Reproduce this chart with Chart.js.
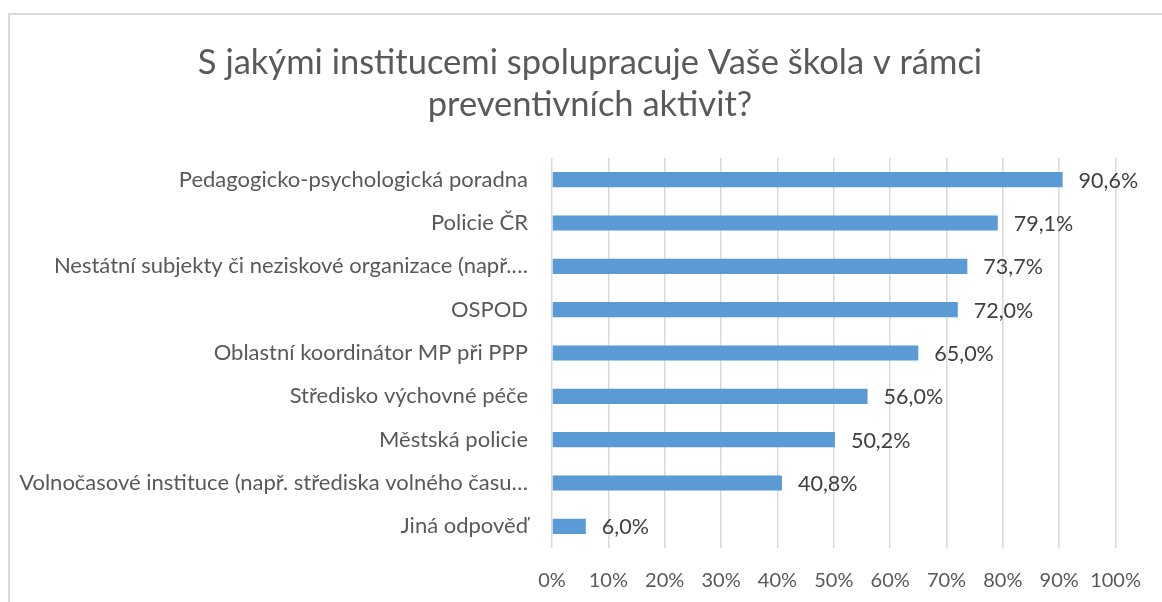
<!DOCTYPE html>
<html>
<head>
<meta charset="utf-8">
<script src="https://cdn.jsdelivr.net/npm/chart.js@4"></script>
<style>
  html, body { margin: 0; padding: 0; background: #fff; overflow: hidden; }
  #wrap { position: relative; width: 1162px; height: 602px; }
  #frame { position: absolute; left: 8px; top: 13px; width: 1200px; height: 700px;
           border-left: 2px solid #d9d9d9; border-top: 2px solid #d9d9d9; pointer-events: none; }
  canvas { position: absolute; left: 0; top: 0; }
</style>
</head>
<body>
<div id="wrap">
  <canvas id="chart" width="1162" height="602"></canvas>
  <div id="frame"></div>
</div>
<script>
const titleLines = ["S jakými institucemi spolupracuje Vaše škola v rámci", "preventivních aktivit?"];
const categories = [
    "Pedagogicko-psychologická poradna",
    "Policie ČR",
    "Nestátní subjekty či neziskové organizace (např.…",
    "OSPOD",
    "Oblastní koordinátor MP při PPP",
    "Středisko výchovné péče",
    "Městská policie",
    "Volnočasové instituce (např. střediska volného času…",
    "Jiná odpověď"
];
const values = [90.6, 79.1, 73.7, 72.0, 65.0, 56.0, 50.2, 40.8, 6.0];
const xTicks = [0, 10, 20, 30, 40, 50, 60, 70, 80, 90, 100];

const fontFamily = "Lato, 'Open Sans', sans-serif";

// title drawn by hand: the original is centred a bit right of the canvas middle
const titleText = {
    id: "titleText",
    afterDraw(chart) {
        let ctx = chart.ctx;
        ctx.save();
        ctx.font = "34.5px " + fontFamily;
        ctx.fillStyle = "#595959";
        ctx.textAlign = "center";
        ctx.textBaseline = "middle";
        titleLines.forEach((line, i) => ctx.fillText(line, 590, 63 + i * 42));
        ctx.restore();
    }
};

// draws the value next to each bar end
const valueLabels = {
    id: "valueLabels",
    afterDatasetsDraw(chart) {
        let ctx = chart.ctx;
        let meta = chart.getDatasetMeta(0);
        ctx.save();
        ctx.font = "21.5px " + fontFamily;
        ctx.fillStyle = "#404040";
        ctx.textAlign = "left";
        ctx.textBaseline = "middle";
        meta.data.forEach((bar, i) => {
            let txt = values[i].toFixed(1).replace(".", ",") + "%";
            ctx.fillText(txt, bar.x + 16, bar.y + 1);
        });
        ctx.restore();
    }
};

new Chart(document.getElementById("chart"), {
    type: "bar",
    data: {
        labels: categories,
        datasets: [{
            data: values,
            backgroundColor: "#5b9bd5",
            barPercentage: 0.35,
            categoryPercentage: 1
        }]
    },
    options: {
        indexAxis: "y",
        responsive: false,
        animation: false,
        layout: { padding: { left: 0, right: 43, top: 158, bottom: 0 } },
        plugins: {
            legend: { display: false },
            tooltip: { enabled: false },
            title: { display: false }
        },
        scales: {
            x: {
                min: 0,
                max: 100,
                afterBuildTicks: scale => { scale.ticks = xTicks.map(v => ({ value: v })); },
                afterFit: scale => { scale.height = 54; },
                grid: { color: "#d9d9d9", lineWidth: 1.5, drawTicks: false },
                border: { display: false },
                ticks: {
                    color: "#595959",
                    padding: 21,
                    autoSkip: false,
                    maxRotation: 0,
                    minRotation: 0,
                    font: { family: fontFamily, size: 20 },
                    callback: v => v + "%"
                }
            },
            y: {
                afterFit: scale => { scale.width = 552; },
                grid: { display: false },
                border: { display: false },
                ticks: {
                    color: "#595959",
                    padding: 16,
                    autoSkip: false,
                    font: { family: fontFamily, size: 22 }
                }
            }
        }
    },
    plugins: [valueLabels, titleText]
});
</script>
</body>
</html>
